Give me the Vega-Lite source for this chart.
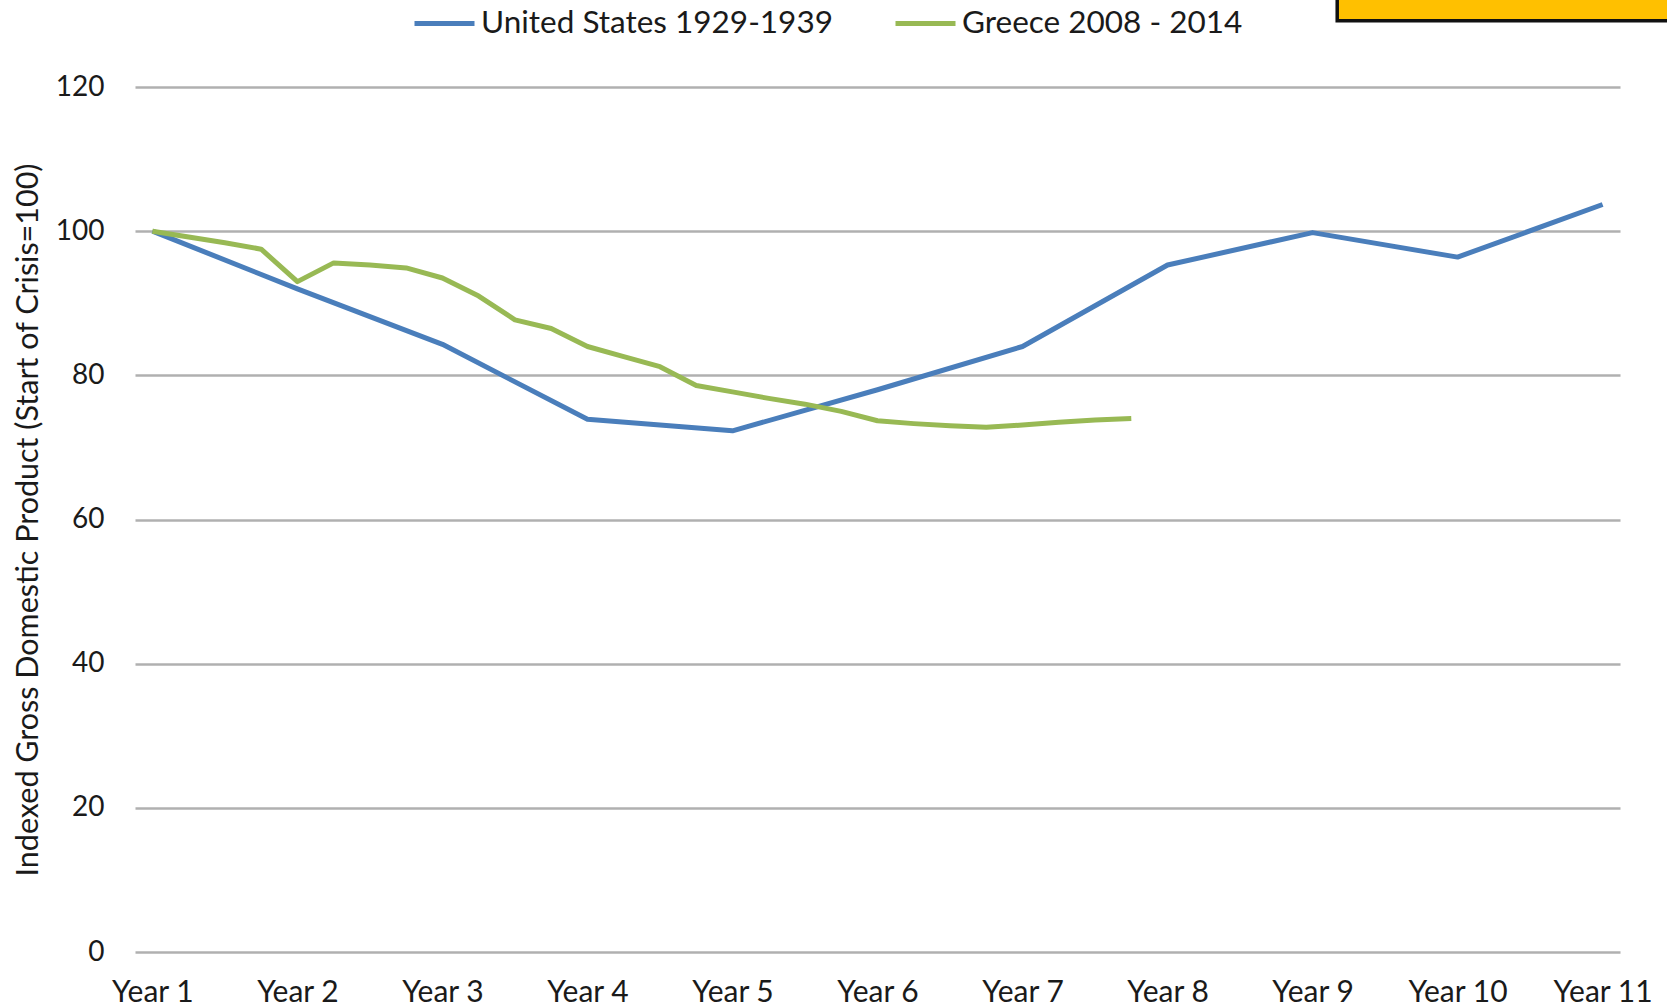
{
  "$schema": "https://vega.github.io/schema/vega-lite/v6.json",
  "autosize": {"type": "none"},
  "width": 1485,
  "height": 865,
  "padding": {"left": 135, "top": 87, "right": 47, "bottom": 56},
  "background": "white",
  "config": {
    "view": {"stroke": null},
    "font": "Lato",
    "axis": {"labelFont": "Lato", "titleFont": "Lato"},
    "legend": {"labelFont": "Lato"}
  },
  "datasets": {
    "gdp": [
      {"series": "United States 1929-1939", "year": 1, "value": 100},
      {"series": "United States 1929-1939", "year": 2, "value": 92.0},
      {"series": "United States 1929-1939", "year": 3, "value": 84.3},
      {"series": "United States 1929-1939", "year": 4, "value": 73.9},
      {"series": "United States 1929-1939", "year": 5, "value": 72.3},
      {"series": "United States 1929-1939", "year": 6, "value": 78.0},
      {"series": "United States 1929-1939", "year": 7, "value": 84.0},
      {"series": "United States 1929-1939", "year": 8, "value": 95.3},
      {"series": "United States 1929-1939", "year": 9, "value": 99.8},
      {"series": "United States 1929-1939", "year": 10, "value": 96.4},
      {"series": "United States 1929-1939", "year": 11, "value": 103.7},
      {"series": "Greece 2008 - 2014", "year": 1.0, "value": 100},
      {"series": "Greece 2008 - 2014", "year": 1.25, "value": 99.2},
      {"series": "Greece 2008 - 2014", "year": 1.5, "value": 98.4},
      {"series": "Greece 2008 - 2014", "year": 1.75, "value": 97.5},
      {"series": "Greece 2008 - 2014", "year": 2.0, "value": 93.0},
      {"series": "Greece 2008 - 2014", "year": 2.25, "value": 95.6},
      {"series": "Greece 2008 - 2014", "year": 2.5, "value": 95.3},
      {"series": "Greece 2008 - 2014", "year": 2.75, "value": 94.9},
      {"series": "Greece 2008 - 2014", "year": 3.0, "value": 93.5},
      {"series": "Greece 2008 - 2014", "year": 3.25, "value": 91.0},
      {"series": "Greece 2008 - 2014", "year": 3.5, "value": 87.7},
      {"series": "Greece 2008 - 2014", "year": 3.75, "value": 86.5},
      {"series": "Greece 2008 - 2014", "year": 4.0, "value": 84.0},
      {"series": "Greece 2008 - 2014", "year": 4.25, "value": 82.6},
      {"series": "Greece 2008 - 2014", "year": 4.5, "value": 81.2},
      {"series": "Greece 2008 - 2014", "year": 4.75, "value": 78.6},
      {"series": "Greece 2008 - 2014", "year": 5.0, "value": 77.7},
      {"series": "Greece 2008 - 2014", "year": 5.25, "value": 76.8},
      {"series": "Greece 2008 - 2014", "year": 5.5, "value": 76.0},
      {"series": "Greece 2008 - 2014", "year": 5.75, "value": 75.0},
      {"series": "Greece 2008 - 2014", "year": 6.0, "value": 73.7},
      {"series": "Greece 2008 - 2014", "year": 6.25, "value": 73.3},
      {"series": "Greece 2008 - 2014", "year": 6.5, "value": 73.0},
      {"series": "Greece 2008 - 2014", "year": 6.75, "value": 72.8},
      {"series": "Greece 2008 - 2014", "year": 7.0, "value": 73.1},
      {"series": "Greece 2008 - 2014", "year": 7.25, "value": 73.5},
      {"series": "Greece 2008 - 2014", "year": 7.5, "value": 73.8},
      {"series": "Greece 2008 - 2014", "year": 7.75, "value": 74.0}
    ]
  },
  "layer": [
    {
      "data": {"name": "gdp"},
      "mark": {"type": "line", "strokeWidth": 5, "strokeJoin": "round", "strokeCap": "butt"},
      "encoding": {
        "x": {
          "field": "year", "type": "quantitative",
          "scale": {"domain": [0.88, 11.12], "nice": false, "zero": false},
          "axis": {
            "values": [1, 2, 3, 4, 5, 6, 7, 8, 9, 10, 11],
            "labelExpr": "'Year ' + datum.value",
            "title": null, "grid": false, "domain": false, "ticks": false, "tickSize": 0,
            "labelFontSize": 30, "labelColor": "#1a1a1a", "labelPadding": 25,
            "labelBaseline": "top", "labelFlush": false
          }
        },
        "y": {
          "field": "value", "type": "quantitative",
          "scale": {"domain": [0, 120], "nice": false},
          "axis": {
            "values": [0, 20, 40, 60, 80, 100, 120],
            "title": "Indexed Gross Domestic Product (Start of Crisis=100)",
            "titleFontSize": 30.5, "titleFontWeight": "normal", "titleColor": "#1a1a1a",
            "titlePadding": 12,
            "grid": true, "gridColor": "#b0b0b0", "gridWidth": 2.5,
            "domain": false, "ticks": false, "tickSize": 0,
            "labelFontSize": 28, "labelColor": "#1a1a1a", "labelPadding": 31
          }
        },
        "color": {
          "field": "series", "type": "nominal",
          "scale": {
            "domain": ["United States 1929-1939", "Greece 2008 - 2014"],
            "range": ["#4a7ebb", "#98b954"]
          },
          "legend": {
            "title": null, "orient": "none", "direction": "horizontal",
            "legendX": 277, "legendY": -96,
            "symbolType": "stroke", "symbolSize": 3600, "symbolStrokeWidth": 5,
            "labelFontSize": 31.5, "labelColor": "#1a1a1a", "labelOffset": 4,
            "labelLimit": 500, "columnPadding": 52
          }
        }
      }
    },
    {
      "data": {"values": [{}]},
      "mark": {"type": "rect", "fill": "#ffc000", "stroke": "#111111", "strokeWidth": 3.5},
      "encoding": {
        "x": {"datum": 9.17, "type": "quantitative"},
        "x2": {"datum": 11.7},
        "y": {"datum": 129.2, "type": "quantitative"},
        "y2": {"datum": 137}
      }
    }
  ]
}
